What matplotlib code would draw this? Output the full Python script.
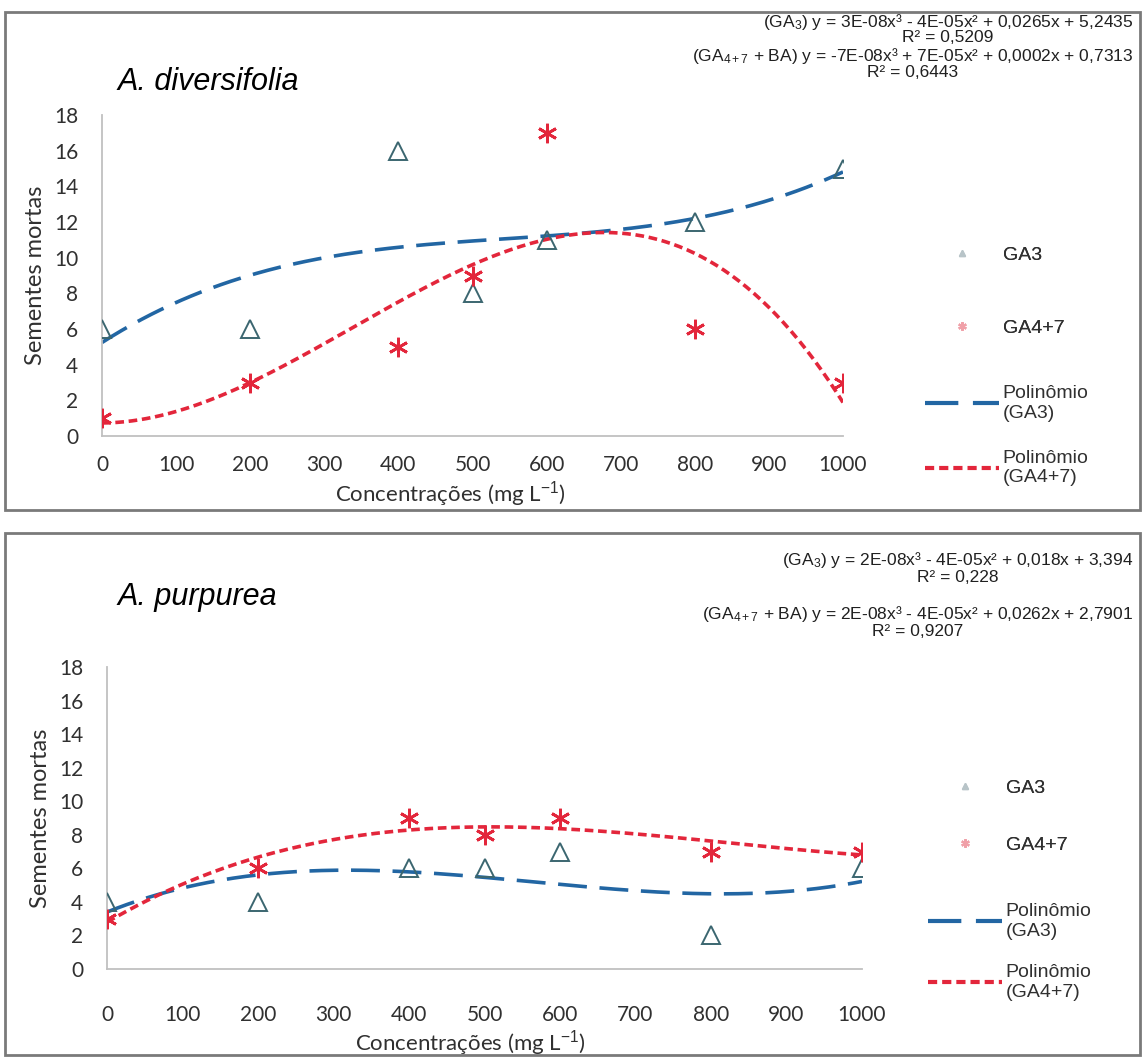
import numpy as np
import matplotlib
matplotlib.use("Agg")
import matplotlib.pyplot as plt
from matplotlib.lines import Line2D
from matplotlib.patches import Rectangle

plt.rcParams["mathtext.fontset"] = "custom"
plt.rcParams["mathtext.rm"] = "Liberation Sans"
plt.rcParams["mathtext.it"] = "Liberation Sans:italic"

# data
conc = [0, 200, 400, 500, 600, 800, 1000]
div_ga3 = [6, 6, 16, 8, 11, 12, 15]
div_ga47 = [1, 3, 5, 9, 17, 6, 3]
pur_ga3 = [4, 4, 6, 6, 7, 2, 6]
pur_ga47 = [3, 6, 9, 8, 9, 7, 7]

x_ticks = list(range(0, 1001, 100))
y_ticks = list(range(0, 19, 2))

blue = "#2266a3"
tri_col = "#3b6670"
red = "#e3263b"
star = (6, 2, 0)

W, H = 1145, 1059
fig = plt.figure(figsize=(W / 100, H / 100), dpi=100)
renderer = fig.canvas.get_renderer()


def fx(px):
    return px / W


def fy(py):
    return 1 - py / H


def panel(box, ax_box, title, title_xy, eqs, eq_y, eq_size, ga3, ga47,
          leg_x, leg1_y, leg1_sp, leg2_y, leg2_sp, xpad, xlab_xy):
    x0, y0, x1, y1 = box
    fig.patches.append(Rectangle((fx(x0), fy(y1)), fx(x1 - x0), (y1 - y0) / H,
                                 transform=fig.transFigure, fill=False,
                                 edgecolor="#7a7a7a", lw=2))
    l, r, b, t = ax_box
    ax = fig.add_axes([fx(l), fy(b), fx(r - l), (b - t) / H])

    # cubic trend lines, as in the spreadsheet
    xs = np.linspace(0, 1000, 300)
    c3 = np.polyfit(conc, ga3, 3)
    c47 = np.polyfit(conc, ga47, 3)
    ax.plot(xs, np.polyval(c3, xs), color=blue, lw=2.6, dashes=(8, 3.5), zorder=2)
    ax.plot(xs, np.polyval(c47, xs), color=red, lw=2.6, dashes=(2.4, 1.3), zorder=2)
    ax.plot(conc, ga3, ls="none", marker="^", ms=13, mfc="none",
            mec=tri_col, mew=1.4, zorder=3)
    ax.plot(conc, ga47, ls="none", marker=star, ms=14, mec=red, mew=2, zorder=3)

    ax.set_xlim(0, 1000)
    ax.set_ylim(0, 18)
    ax.set_xticks(x_ticks)
    ax.set_yticks(y_ticks)
    ax.tick_params(length=0, labelsize=15, labelcolor="#303030")
    ax.tick_params(axis="y", pad=17)
    ax.tick_params(axis="x", pad=xpad)
    for s in ["top", "right"]:
        ax.spines[s].set_visible(False)
    for s in ["left", "bottom"]:
        ax.spines[s].set_color("#c0c0c0")
        ax.spines[s].set_linewidth(1.3)
    for lab in ax.get_xticklabels() + ax.get_yticklabels():
        lab.set_fontfamily("Lato")
    ax.set_ylabel("Sementes mortas", fontsize=17, family="Lato", color="#303030",
                  labelpad=6)
    ax.set_facecolor("none")
    fig.text(fx(xlab_xy[0]), fy(xlab_xy[1]), "Concentrações (mg L$^{-1}$)",
             fontsize=16, family="Lato", color="#303030", ha="center", va="center")

    fig.text(fx(title_xy[0]), fy(title_xy[1]), title, fontsize=22,
             style="italic", family="Liberation Sans", va="center")

    # equation lines, R² centred under its equation
    for (eq, r2), (ye, yr) in zip(eqs, eq_y):
        te = fig.text(fx(1133), fy(ye), eq, fontsize=eq_size,
                      family="Liberation Sans", ha="right", va="center_baseline",
                      color="#202020")
        bb = te.get_window_extent(renderer)
        fig.text((bb.x0 + bb.x1) / 2 / W, fy(yr), r2, fontsize=eq_size,
                 family="Liberation Sans", ha="center", va="center_baseline",
                 color="#202020")

    mk_handles = [
        Line2D([], [], ls="none", marker="^", ms=5, mfc="#b8c4c8", mec="#b8c4c8"),
        Line2D([], [], ls="none", marker=star, ms=6, mec="#f0a0a8", mew=1.5),
    ]
    ln_handles = [
        Line2D([], [], color=blue, lw=3, dashes=(8, 3.5)),
        Line2D([], [], color=red, lw=3, dashes=(2.2, 1.2)),
    ]
    common = dict(loc="upper left", frameon=False, borderaxespad=0, borderpad=0,
                  prop={"family": "Liberation Sans", "size": 14},
                  handlelength=3.8, handletextpad=0.2, labelcolor="#303030")
    leg1 = fig.legend(mk_handles, ["GA3", "GA4+7"],
                      bbox_to_anchor=(fx(leg_x), fy(leg1_y)),
                      labelspacing=leg1_sp, **common)
    fig.legend(ln_handles, ["Polinômio\n(GA3)", "Polinômio\n(GA4+7)"],
               bbox_to_anchor=(fx(leg_x), fy(leg2_y)),
               labelspacing=leg2_sp, **common)
    fig.add_artist(leg1)
    return ax


panel((5, 12, 1140, 510), (102, 843, 436, 115), "A. diversifolia", (118, 82),
      [("(GA$_3$) y = 3E-08x³ - 4E-05x² + 0,0265x + 5,2435", "R² = 0,5209"),
       ("(GA$_{4+7}$ + BA) y = -7E-08x³ + 7E-05x² + 0,0002x + 0,7313", "R² = 0,6443")],
      [(19, 36), (54, 71)], 12.5, div_ga3, div_ga47,
      925, 246, 2.85, 385, 1.45, 14, (450, 494))

panel((5, 533, 1140, 1055), (107, 862, 969, 667), "A. purpurea", (118, 597),
      [("(GA$_3$) y = 2E-08x³ - 4E-05x² + 0,018x + 3,394", "R² = 0,228"),
       ("(GA$_{4+7}$ + BA) y = 2E-08x³ - 4E-05x² + 0,0262x + 2,7901", "R² = 0,9207")],
      [(558, 576), (612, 630)], 12.5, pur_ga3, pur_ga47,
      928, 779, 2.05, 903, 1.25, 26, (470, 1043))

fig.savefig("out.png", dpi=100)
